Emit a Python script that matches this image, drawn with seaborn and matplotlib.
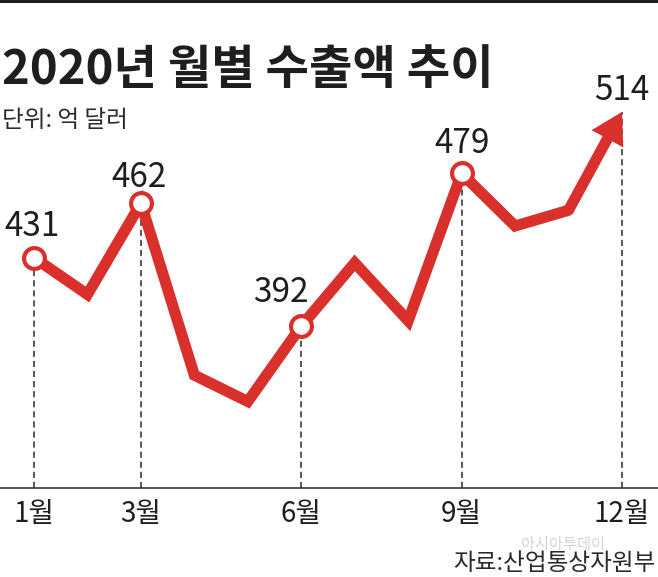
import matplotlib
matplotlib.use('Agg')
import matplotlib.pyplot as plt
import seaborn as sns
import pandas as pd
from matplotlib.patches import Rectangle

# ---- data ----
months = list(range(1, 13))
exports = [431, 410, 462, 364, 349, 392, 428, 395, 479, 449, 458, 514]
labeled_months = [1, 3, 6, 9, 12]
tick_labels = ['1월', '3월', '6월', '9월', '12월']
title = '2020년 월별 수출액 추이'
unit_text = '단위: 억 달러'
source_text = '자료:산업통상자원부'
watermark = '아시아투데이'

# ---- style ----
sns.set_theme(style='white')
plt.rcParams['font.family'] = ['Noto Sans CJK KR', 'DejaVu Sans']

RED = '#d9302b'
INK = '#1e1e1e'
label_offsets_px = {1: (-2, 22), 3: (-2, 16), 6: (-20, 24), 9: (0, 20), 12: (0, 12)}

W, H = 658, 577
fig = plt.figure(figsize=(W / 100, H / 100), dpi=100)
fig.patch.set_facecolor('white')
ax = fig.add_axes([0, (H - 487.5) / H, 1, (487.5 - 60) / H])
ax.set_facecolor('none')

df = pd.DataFrame({'month': months, 'value': exports})
body = df[df['month'] <= 11]
marked = df[df['month'].isin([1, 3, 6, 9])]
last_two = df[df['month'] >= 11]
guides = df[df['month'].isin(labeled_months)]

# dashed guide lines
ax.vlines(guides['month'], 300, guides['value'],
          colors='#2a2a2a', linewidth=1.1, linestyles=(0, (4, 2.6)), zorder=2)

# main line
sns.lineplot(data=body, x='month', y='value', color=RED, linewidth=8,
             solid_joinstyle='miter', solid_capstyle='round', ax=ax, zorder=3)

# arrow for last segment
ax.annotate('', xy=(last_two['month'].iloc[1], last_two['value'].iloc[1]),
            xytext=(last_two['month'].iloc[0], last_two['value'].iloc[0]),
            arrowprops=dict(arrowstyle='simple,head_length=22,head_width=26,tail_width=7.9',
                            mutation_scale=1, color=RED, lw=0, shrinkA=0, shrinkB=0),
            zorder=3)

# open circle markers
sns.scatterplot(data=marked, x='month', y='value', s=225, color='white',
                edgecolor=RED, linewidth=3, ax=ax, zorder=4, legend=False)

# value labels
for m in labeled_months:
    v = df.loc[df['month'] == m, 'value'].iloc[0]
    dx, dy = label_offsets_px[m]
    ax.annotate(f'{v}', xy=(m, v), xytext=(dx, dy), textcoords='offset pixels',
                ha='center', va='baseline', fontsize=24, color=INK, zorder=5)

# axes
x_per_px = 11 / (622 - 34)
ax.set_xlim(1 - 34 * x_per_px, 12 + (W - 622) * x_per_px)
ax.set_ylim(300, 543.6)
ax.set_xticks(labeled_months, tick_labels)
ax.tick_params(axis='x', length=0, pad=8, labelsize=20, labelcolor=INK)
ax.set_yticks([])
ax.set_xlabel('')
ax.set_ylabel('')
for s in ['top', 'left', 'right']:
    ax.spines[s].set_visible(False)
ax.spines['bottom'].set_color('#2a2a2a')
ax.spines['bottom'].set_linewidth(1.1)

# figure texts
fig.patches.append(Rectangle((0, 1 - 3 / H), 1, 3 / H, transform=fig.transFigure,
                             facecolor=INK, edgecolor='none'))
fig.text(2 / W, 1 - 84 / H, title, fontsize=34, fontweight='black', color=INK,
         ha='left', va='baseline')
fig.text(2 / W, 1 - 127 / H, unit_text, fontsize=17, color='#2a2a2a',
         ha='left', va='baseline')
fig.text(563 / W, 1 - 545 / H, watermark, fontsize=11, color='#d4d4d4',
         ha='center', va='center')
fig.text(656 / W, 1 - 570 / H, source_text, fontsize=17, color='#2a2a2a',
         ha='right', va='baseline')

fig.savefig('out.png', dpi=100)
